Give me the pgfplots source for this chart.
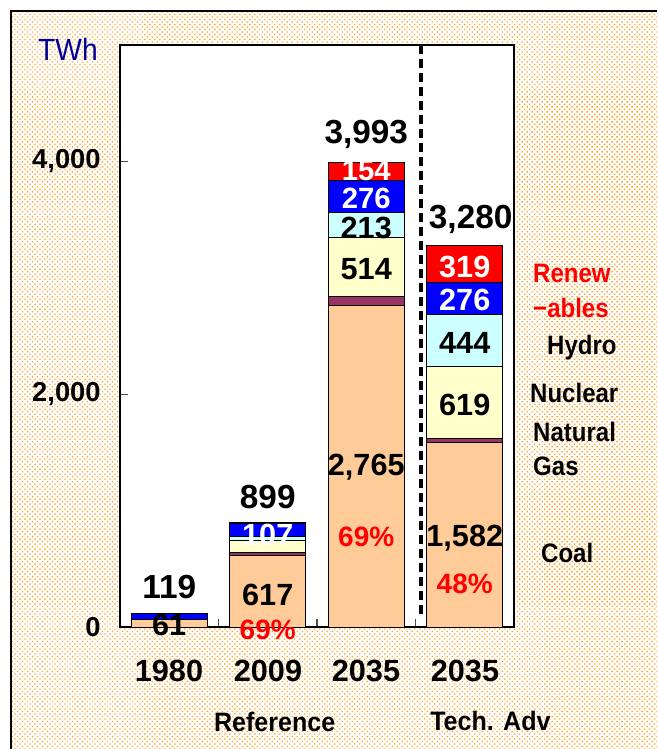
\documentclass[border=0pt]{standalone}
\usepackage{pgfplots}
\pgfplotsset{compat=1.18}
\usepackage{fontspec}
\setmainfont{Liberation Sans}
\usetikzlibrary{patterns.meta}
\definecolor{coal}{RGB}{255,204,153}
\definecolor{gas}{RGB}{153,51,102}
\definecolor{nuc}{RGB}{255,255,204}
\definecolor{hyd}{RGB}{204,255,255}
\definecolor{blu}{RGB}{0,0,255}
\definecolor{ren}{RGB}{255,0,0}
\definecolor{dotc}{RGB}{255,160,30}
\definecolor{navy}{RGB}{0,0,153}
\newcommand{\fs}[1]{\fontsize{#1}{#1}\selectfont\bfseries}
\begin{document}
\begin{tikzpicture}[x=0.75pt,y=0.75pt]
\useasboundingbox (0,0) rectangle (657,749);
\fill[white] (0,0) rectangle (657,749);
\fill[pattern={Dots[distance=2.65pt,radius=0.7pt,angle=45]}, pattern color=dotc] (11,0) rectangle (657,738);
\draw[line width=1.5pt] (11,0) -- (11,738) -- (657,738);
\begin{axis}[
  at={(90pt,91.5pt)}, anchor=south west, scale only axis,
  width=295.5pt, height=436.5pt,
  xmin=-0.5, xmax=3.5, ymin=0, ymax=5000,
  ybar stacked, bar width=0.77,
  axis background/.style={fill=white},
  axis line style={black, line width=1.3pt},
  ytick={0,2000,4000}, yticklabels={0,{2,000},{4,000}},
  xtick={0.5,1.5,2.5}, xticklabels={},
  tick align=inside, xtick pos=left, ytick pos=left,
  major tick length=6pt,
  tick style={black!70, line width=0.8pt},
  /pgf/number format/assume math mode=true,
  yticklabel style={font=\fs{20.5}, xshift=-11pt},
  clip=false,
]
\addplot[fill=coal, draw=black, line width=0.6pt] coordinates {(0,61) (1,617) (2,2765) (3,1582)};
\addplot[fill=gas, draw=black, line width=0.6pt] coordinates {(0,0) (1,25) (2,71) (3,40)};
\addplot[fill=nuc, draw=black, line width=0.6pt] coordinates {(0,0) (1,100) (2,514) (3,619)};
\addplot[fill=hyd, draw=black, line width=0.6pt] coordinates {(0,3) (1,37) (2,213) (3,444)};
\addplot[fill=blu, draw=black, line width=0.6pt] coordinates {(0,55) (1,107) (2,276) (3,276)};
\addplot[fill=ren, draw=black, line width=0.6pt] coordinates {(0,0) (1,13) (2,154) (3,319)};
\coordinate (dA) at (axis cs:2.556,5000);
\coordinate (dB) at (axis cs:2.556,77);
\coordinate (t0) at (axis cs:0,340);
\coordinate (t1) at (axis cs:1,1118);
\coordinate (t2) at (axis cs:2,4232);
\coordinate (t3) at (axis cs:3.06,3501);
\coordinate (a1) at (axis cs:0,17);
\coordinate (b1) at (axis cs:1,275);
\coordinate (b2) at (axis cs:1,791);
\coordinate (b3) at (axis cs:1,-26);
\coordinate (c1) at (axis cs:2,3920);
\coordinate (c2) at (axis cs:2,3685);
\coordinate (c3) at (axis cs:2,3432);
\coordinate (c4) at (axis cs:2,3071);
\coordinate (c5) at (axis cs:2,1376);
\coordinate (c6) at (axis cs:2,774);
\coordinate (d1) at (axis cs:3,3097);
\coordinate (d2) at (axis cs:3,2813);
\coordinate (d3) at (axis cs:3,2443);
\coordinate (d4) at (axis cs:3,1910);
\coordinate (d5) at (axis cs:3,766);
\coordinate (d6) at (axis cs:3,370);
\end{axis}
% dashed separator
\draw[line width=2.3pt, dash pattern=on 6.75pt off 3.75pt] (dA) -- (dB);
% totals
\node[font=\fs{25}] at (t0) {119};
\node[font=\fs{25}] at (t1) {899};
\node[font=\fs{25}] at (t2) {3,993};
\node[font=\fs{25}] at (t3) {3,280};
% inner labels
\node[font=\fs{23}] at (a1) {61};
\node[font=\fs{23}] at (b1) {617};
\node[font=\fs{23}, white] at (b2) {107};
\node[font=\fs{21}, red] at (b3) {69\%};
\node[font=\fs{22}, white, inner sep=0pt] at (c1) {154};
\node[font=\fs{22}, white, inner sep=0pt] at (c2) {276};
\node[font=\fs{23}] at (c3) {213};
\node[font=\fs{23}] at (c4) {514};
\node[font=\fs{23}] at (c5) {2,765};
\node[font=\fs{21}, red] at (c6) {69\%};
\node[font=\fs{23}, white] at (d1) {319};
\node[font=\fs{23}, white] at (d2) {276};
\node[font=\fs{23}] at (d3) {444};
\node[font=\fs{23}] at (d4) {619};
\node[font=\fs{23}] at (d5) {1,582};
\node[font=\fs{21}, red] at (d6) {48\%};
% unit
\node[anchor=base west, inner sep=0pt, text=navy, font=\fontsize{23}{23}\selectfont, xscale=0.92] at (38,688) {TWh};
% category labels
\node[font=\fs{23}] at (169,78.3) {1980};
\node[font=\fs{23}] at (268,78.3) {2009};
\node[font=\fs{23}] at (366,78.3) {2035};
\node[font=\fs{23}] at (465,78.3) {2035};
\node[font=\fs{20}, xscale=0.94] at (274.7,27.5) {Reference};
\node[font=\fs{20}, xscale=0.94, anchor=west, inner sep=0pt] at (430,28) {Tech. Adv};
% legend labels
\node[font=\fs{20}, red, anchor=base west, inner sep=0pt, xscale=0.9] at (533,466) {Renew};
\node[font=\fs{20}, red, anchor=base west, inner sep=0pt, xscale=0.9] at (533,431) {−ables};
\node[font=\fs{20}, anchor=base west, inner sep=0pt, xscale=0.9] at (547,394) {Hydro};
\node[font=\fs{20}, anchor=base west, inner sep=0pt, xscale=0.9] at (530,346) {Nuclear};
\node[font=\fs{20}, anchor=base west, inner sep=0pt, xscale=0.9] at (533,307) {Natural};
\node[font=\fs{20}, anchor=base west, inner sep=0pt, xscale=0.9] at (533,273) {Gas};
\node[font=\fs{20}, anchor=base west, inner sep=0pt, xscale=0.9] at (541,186) {Coal};
\end{tikzpicture}
\end{document}
